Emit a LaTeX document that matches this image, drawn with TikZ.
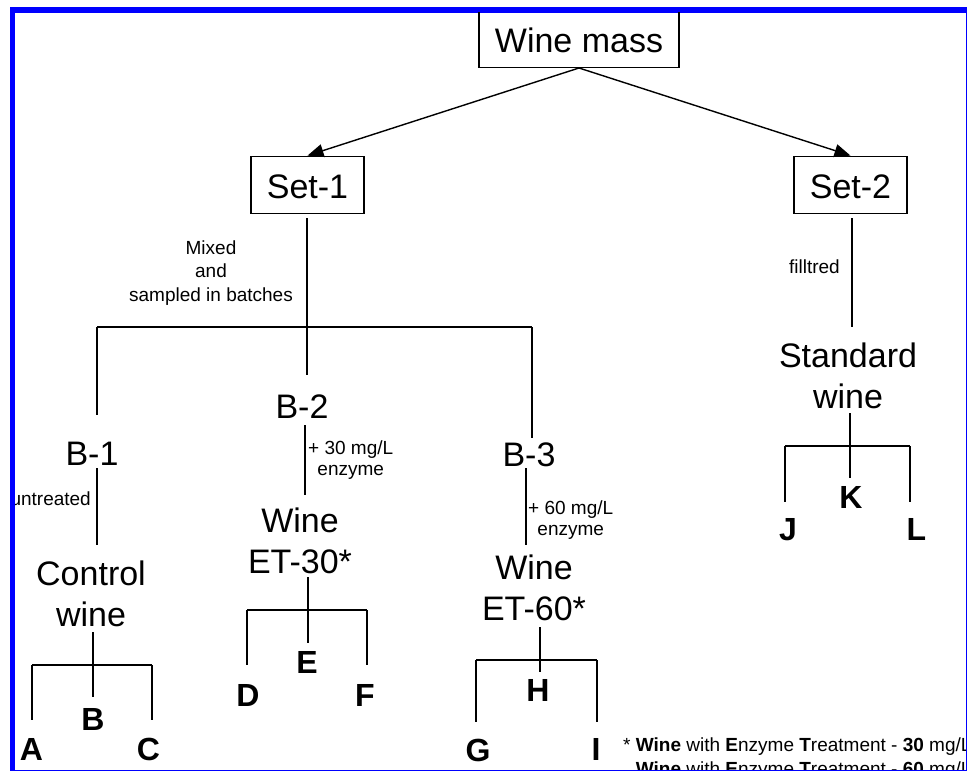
\documentclass[tikz,border=0pt]{standalone}
\usepackage{fontspec}
\setmainfont{Liberation Sans}
\usetikzlibrary{arrows.meta}
\definecolor{frameblue}{RGB}{0,0,255}
\begin{document}
\begin{tikzpicture}[x=1pt,y=-1pt,
  boxnode/.style={draw, line width=1.4pt, inner sep=0pt, font=\fontsize{34}{41}\selectfont},
  lbl/.style={inner sep=0pt, anchor=base, align=center, font=\fontsize{34}{41}\selectfont},
  sample/.style={inner sep=0pt, anchor=base, font=\fontsize{32}{38}\selectfont\bfseries},
  note/.style={inner sep=0pt, align=center, font=\fontsize{19}{21}\selectfont},
  link/.style={line width=1.4pt},
  arr/.style={line width=1.4pt, -{Triangle[length=16pt,width=13pt]}},
]
\useasboundingbox (0,0) rectangle (969,773);
% frame: heavy on top and left, hairline on right and bottom
\fill[frameblue] (10,7) rectangle (967,771);
\fill[white] (15,13) rectangle (965.5,769.5);
\begin{scope}
\clip (15,13) rectangle (965.5,769.5);

% top level (multi-line nodes are placed by the baseline of their last line)
\node[boxnode, minimum width=200pt, text height=60pt, text depth=15pt, anchor=south] (wm) at (579,68) {Wine mass};
\node[boxnode, minimum width=113pt, text height=42pt, text depth=15pt, anchor=south] (set1) at (307.5,214) {Set-1};
\node[boxnode, minimum width=113pt, text height=42pt, text depth=15pt, anchor=south] (set2) at (850.5,214) {Set-2};
\draw[arr] (wm.south) -- (set1.north);
\draw[arr] (wm.south) -- (set2.north);

% Set-1 branch
\coordinate (s1top) at (307,218);
\coordinate (s1mid) at (307,327);
\coordinate (barL) at (97,327);
\coordinate (barR) at (532,327);
\draw[link] (s1top) -- (s1mid);
\draw[link] (barL) -- (barR);
\node[note, anchor=base] (mix) at (211,301) {Mixed\\[2.5pt]and\\[2.5pt]sampled in batches};

\node[lbl] (b1) at (92,465) {B-1};
\node[lbl] (b2) at (302,418) {B-2};
\node[lbl] (b3) at (529,466) {B-3};
\coordinate (b1in) at (97,415);
\coordinate (b2in) at (307,375);
\coordinate (b3in) at (532,438);
\draw[link] (barL) -- (b1in);
\draw[link] (s1mid) -- (b2in);
\draw[link] (barR) -- (b3in);

% B-1 -> control wine
\coordinate (b1a) at (97,468);
\coordinate (b1b) at (97,545);
\draw[link] (b1a) -- (b1b);
\node[note, anchor=base east] (untr) at (91,505) {untreated};
\node[lbl] (cw) at (91,626) {Control\\wine};

% B-2 -> wine ET-30
\coordinate (b2a) at (305,425);
\coordinate (b2b) at (305,495);
\draw[link] (b2a) -- (b2b);
\node[note, anchor=base west] (enz30) at (308,475) {+ 30 mg/L\\enzyme};
\node[lbl] (w30) at (300,573) {Wine\\ET-30*};

% B-3 -> wine ET-60
\coordinate (b3a) at (526,468);
\coordinate (b3b) at (526,545);
\draw[link] (b3a) -- (b3b);
\node[note, anchor=base west] (enz60) at (528,535) {+ 60 mg/L\\enzyme};
\node[lbl] (w60) at (534,620) {Wine\\ET-60*};

% Set-2 branch
\coordinate (s2top) at (852,218);
\coordinate (s2bot) at (852,327);
\draw[link] (s2top) -- (s2bot);
\node[note, anchor=base east] (filt) at (840,273) {filltred};
\node[lbl] (sw) at (848,408) {Standard\\wine};

% samples A B C
\node[sample] (sA) at (31.5,760) {A};
\node[sample] (sB) at (93,730) {B};
\node[sample] (sC) at (148.5,760) {C};
\coordinate (cwS) at (93,632);
\coordinate (abcL) at (32,665);
\coordinate (abcR) at (152,665);
\draw[link] (cwS) -- (93,697);
\draw[link] (abcL) -- (abcR);
\draw[link] (abcL) -- (32,720);
\draw[link] (abcR) -- (152,720);

% samples D E F
\node[sample] (sD) at (248,706) {D};
\node[sample] (sE) at (307,673) {E};
\node[sample] (sF) at (365,706) {F};
\coordinate (defL) at (247,610);
\coordinate (defR) at (367,610);
\draw[link] (308,577) -- (308,643);
\draw[link] (defL) -- (defR);
\draw[link] (defL) -- (247,665);
\draw[link] (defR) -- (367,665);

% samples G H I
\node[sample] (sG) at (478,761) {G};
\node[sample] (sH) at (538,701) {H};
\node[sample] (sI) at (596,760) {I};
\coordinate (ghiL) at (476,660);
\coordinate (ghiR) at (597,660);
\draw[link] (540,627) -- (540,672);
\draw[link] (ghiL) -- (ghiR);
\draw[link] (ghiL) -- (476,722);
\draw[link] (ghiR) -- (597,722);

% samples J K L
\node[sample] (sJ) at (788,540) {J};
\node[sample] (sK) at (851,508) {K};
\node[sample] (sL) at (916.5,540) {L};
\coordinate (jklL) at (785,446);
\coordinate (jklR) at (910,446);
\draw[link] (850,413) -- (850,478);
\draw[link] (jklL) -- (jklR);
\draw[link] (jklL) -- (785,502);
\draw[link] (jklR) -- (910,502);

% footnote
\node[anchor=base west, inner sep=0pt, align=left, font=\fontsize{19}{24}\selectfont] (fn) at (623,775)
  {* \textbf{Wine} with \textbf{E}nzyme \textbf{T}reatment - \textbf{30} mg/L\\
   \hphantom{*\ }\textbf{Wine} with \textbf{E}nzyme \textbf{T}reatment - \textbf{60} mg/L};
\end{scope}
\end{tikzpicture}
\end{document}
